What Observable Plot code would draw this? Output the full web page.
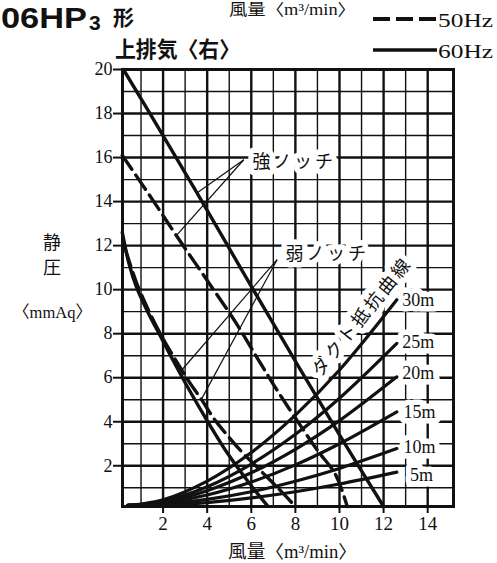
<!DOCTYPE html>
<html><head><meta charset="utf-8">
<script src="https://cdn.jsdelivr.net/npm/d3@7"></script>
<script src="https://cdn.jsdelivr.net/npm/@observablehq/plot@0.6"></script>
<style>
html,body{margin:0;padding:0;background:#fff;}
#wrap{position:relative;width:497px;height:563px;overflow:hidden;}
</style></head><body><div id="wrap"></div>
<script>
// ---- ticks & grid ----
const xTicks = [2, 4, 6, 8, 10, 12, 14];
const yTicks = [2, 4, 6, 8, 10, 12, 14, 16, 18, 20];
const gridMajorX = [2, 4, 6, 8, 10, 12, 14];
const gridMinorX = [1, 3, 5, 7, 9, 11, 13];
const gridMajorY = [2, 4, 6, 8, 10, 12, 14, 16, 18];
const gridMinorY = [1, 3, 5, 7, 9, 11, 13, 15, 17, 19];

// ---- fan curves (風量 m3/min, 静圧 mmAq) ----
const strong60Q = [0.2, 2, 4, 6, 8, 10, 12];
const strong60P = [20, 17, 13.6, 10.15, 6.75, 3.4, 0.15];
const strong50Q = [0.15, 1.58, 2.64, 4.15, 5.3, 6.42, 7.17, 8.08, 9.0, 9.82, 10.35];
const strong50P = [16.1, 14.0, 12.4, 10.2, 8.5, 6.65, 5.43, 4.05, 2.7, 1.6, 0.15];
const weak60Q = [0.15, 0.45, 0.8, 1.3, 1.9, 2.5, 3.1, 3.85, 4.9, 5.8, 6.72];
const weak60P = [12.6, 11.2, 10.1, 9.0, 7.85, 6.7, 5.6, 4.3, 2.6, 1.35, 0.2];
const weak50Q = [0.3, 0.8, 1.3, 1.9, 2.62, 3.23, 3.76, 4.3, 4.9, 5.6, 6.4, 7.2, 8.0];
const weak50P = [11.8, 10.3, 9.15, 7.95, 6.72, 5.74, 4.98, 4.15, 3.4, 2.6, 1.8, 1.0, 0.15];

// ---- duct resistance curves ----
const ductQ = [0.4, 1, 2, 4, 6, 8, 10, 12.6];
const duct30 = [0.2, 0.26, 0.45, 1.3, 2.6, 4.3, 6.35, 9.54];
const duct25 = [0.2, 0.24, 0.39, 1.05, 2.08, 3.43, 5.07, 7.56];
const duct20 = [0.2, 0.23, 0.34, 0.87, 1.68, 2.75, 4.05, 6.04];
const duct15 = [0.2, 0.22, 0.3, 0.67, 1.26, 2.04, 3.0, 4.45];
const duct10 = [0.2, 0.21, 0.25, 0.47, 0.82, 1.3, 1.88, 2.78];
const duct5  = [0.2, 0.2, 0.22, 0.33, 0.54, 0.82, 1.17, 1.71];
const ductNames = ["30m", "25m", "20m", "15m", "10m", "5m"];
const ductLabelQ = [12.85, 12.85, 12.85, 12.9, 12.9, 13.2];
const ductLabelP = [9.5, 7.63, 6.2, 4.45, 2.85, 1.56];

// ---- annotations ----
const notchLabels = ["強ノッチ", "弱ノッチ"];
const notchLabelQ = [6.05, 7.55];
const notchLabelP = [15.78, 11.63];
const leaderFromQ = [5.66, 5.66, 7.17, 7.17];
const leaderFromP = [15.9, 15.9, 11.36, 11.36];
const leaderToQ = [3.55, 2.64, 2.85, 3.76];
const leaderToP = [14.4, 12.5, 6.35, 5.06];
const ductTitle = ["ダクト抵抗曲線"];
const ductTitleQ = [11.03];
const ductTitleP = [8.77];

// ---- build tables ----
const rows = (name, qs, ps) => qs.map((q, i) => ({series: name, q, p: ps[i]}));
const fan60 = [...rows("strong60", strong60Q, strong60P), ...rows("weak60", weak60Q, weak60P)];
const fan50 = [...rows("strong50", strong50Q, strong50P), ...rows("weak50", weak50Q, weak50P)];
const ductSeries = [duct30, duct25, duct20, duct15, duct10, duct5];
const ducts = ductSeries.flatMap((ps, k) => rows(ductNames[k], ductQ, ps));
const ductLabels = ductNames.map((n, i) => ({n, q: ductLabelQ[i], p: ductLabelP[i]}));
const notch = notchLabels.map((n, i) => ({n, q: notchLabelQ[i], p: notchLabelP[i]}));
const leaders = leaderFromQ.map((q, i) => ({x1: q, y1: leaderFromP[i], x2: leaderToQ[i], y2: leaderToP[i]}));
const dtitle = ductTitle.map((n, i) => ({n, q: ductTitleQ[i], p: ductTitleP[i]}));

const serif = "'Liberation Serif','Noto Sans CJK JP',serif";
const ink = "#111";

const chart = Plot.plot({
  width: 497, height: 563,
  marginLeft: 122, marginRight: 44, marginTop: 69, marginBottom: 57,
  x: {domain: [0.16, 15.17]},
  y: {domain: [0.15, 20]},
  style: {fontFamily: serif, fontSize: "18px", background: "white", color: ink},
  marks: [
    Plot.ruleX(gridMinorX, {stroke: ink, strokeWidth: 1.4}),
    Plot.ruleX(gridMajorX, {stroke: ink, strokeWidth: 2.4}),
    Plot.ruleY(gridMinorY, {stroke: ink, strokeWidth: 1.4}),
    Plot.ruleY(gridMajorY, {stroke: ink, strokeWidth: 2.4}),
    Plot.text(ductLabels, {x: "q", y: "p", text: "n", textAnchor: "start", fontSize: 18, fill: ink, stroke: "white", strokeWidth: 11}),
    Plot.text(notch, {x: "q", y: "p", text: "n", textAnchor: "start", fontSize: 18, fill: ink, stroke: "white", strokeWidth: 11}),
    Plot.text(dtitle, {x: "q", y: "p", text: "n", rotate: -51, fontSize: 18, fill: ink, stroke: "white", strokeWidth: 11}),
    Plot.link(leaders, {x1: "x1", y1: "y1", x2: "x2", y2: "y2", stroke: ink, strokeWidth: 1.2}),
    Plot.line(ducts, {x: "q", y: "p", z: "series", curve: "catmull-rom", stroke: ink, strokeWidth: 3.2}),
    Plot.line(fan60, {x: "q", y: "p", z: "series", curve: "catmull-rom", stroke: ink, strokeWidth: 3.4}),
    Plot.line(fan50, {x: "q", y: "p", z: "series", curve: "catmull-rom", stroke: ink, strokeWidth: 3.4, strokeDasharray: "17,7"}),
    Plot.frame({stroke: ink, strokeWidth: 3}),
    Plot.axisX(xTicks, {tickSize: 7, tickPadding: 3, strokeWidth: 2, fontSize: 19, label: null}),
    Plot.axisY(yTicks, {tickSize: 9, tickPadding: 1, strokeWidth: 2, fontSize: 18, label: null})
  ]
});
document.getElementById("wrap").append(chart);

const svg = d3.select(chart);
// letter spacing for annotation texts
const spaced = new Set([...notchLabels, ...ductTitle]);
svg.selectAll("text").filter(function() { return spaced.has(this.textContent); }).style("letter-spacing", "3px");

const sans = "'Liberation Sans','Noto Sans CJK JP',sans-serif";
const cjk = "'Noto Sans CJK JP',sans-serif";
function t(x, y, s, o = {}) {
  const e = svg.append("text").attr("x", x).attr("y", y).text(s)
    .attr("font-family", o.ff || serif).attr("font-size", o.fs || 18)
    .attr("font-weight", o.fw || "normal").attr("fill", ink)
    .attr("text-anchor", o.anchor || "start");
  if (o.len) e.attr("textLength", o.len).attr("lengthAdjust", "spacingAndGlyphs");
  return e;
}
// title
t(1, 28, "06HP", {ff: sans, fs: 30, fw: "bold", len: 86});
t(89, 30, "3", {ff: sans, fs: 21, fw: "bold"});
t(113, 25, "形", {ff: cjk, fs: 21, fw: "bold"});
t(115, 57, "上排気〈右〉", {ff: cjk, fs: 22, fw: "bold", len: 125});
t(229, 15, "風量〈m³/min〉", {fs: 16, len: 127});
// legend
svg.append("line").attr("x1", 373).attr("x2", 437).attr("y1", 19).attr("y2", 19)
  .attr("stroke", ink).attr("stroke-width", 4).attr("stroke-dasharray", "17,6");
t(438, 27, "50Hz", {fs: 18, len: 55});
svg.append("line").attr("x1", 373).attr("x2", 437).attr("y1", 50).attr("y2", 50)
  .attr("stroke", ink).attr("stroke-width", 3.5);
t(438, 58, "60Hz", {fs: 18, len: 55});
// y label
t(52, 249, "静", {ff: cjk, fs: 18, anchor: "middle"});
t(52, 274, "圧", {ff: cjk, fs: 18, anchor: "middle"});
t(13, 318, "〈mmAq〉", {fs: 17, len: 79});
// x label
t(228, 558, "風量〈m³/min〉", {fs: 18, len: 129});
</script></body></html>
